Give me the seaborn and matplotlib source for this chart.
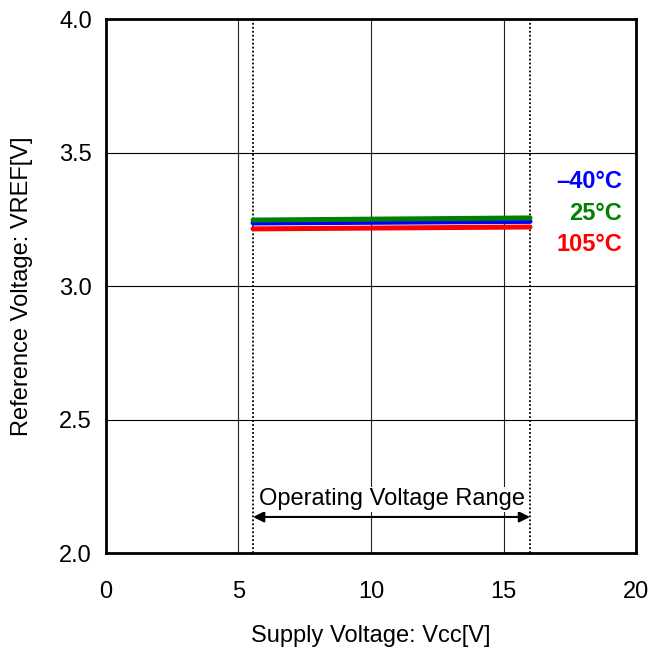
import pandas as pd
import numpy as np
import matplotlib
matplotlib.use("Agg")
import matplotlib.pyplot as plt
import seaborn as sns

# supply voltage sweep (V) and reference voltage per temperature (V)
vcc = [5.55, 16.0]
temps = ["\u201340\u00b0C", "25\u00b0C", "105\u00b0C"]
vref_m40 = [3.236, 3.242]
vref_25 = [3.247, 3.255]
vref_105 = [3.214, 3.221]
colors = ["#0000ff", "#008000", "#ff0000"]

x_ticks = [0, 5, 10, 15, 20]
y_ticks = [2.0, 2.5, 3.0, 3.5, 4.0]
op_range = [5.55, 16.0]

rows = []
for t, vals in zip(temps, [vref_m40, vref_25, vref_105]):
    for x, y in zip(vcc, vals):
        rows.append({"vcc": x, "vref": y, "temp": t})
df = pd.DataFrame(rows)

sns.set_style("white")
plt.rcParams["font.family"] = ["Liberation Sans", "DejaVu Sans"]
plt.rcParams["text.color"] = "black"
plt.rcParams["axes.labelcolor"] = "black"
plt.rcParams["xtick.color"] = "black"
plt.rcParams["ytick.color"] = "black"

fig = plt.figure(figsize=(6.49, 6.53), dpi=100)
ax = fig.add_axes([0.1633, 0.1531, 0.8167, 0.8178])

for x in [5, 10, 15]:
    ax.axvline(x, color="#222222", lw=0.8, zorder=1)
for y in [2.5, 3.0, 3.5]:
    ax.axhline(y, color="black", lw=0.8, zorder=1)
for x in op_range:
    ax.axvline(x, color="black", lw=1.3, ls=(0, (1, 1.2)), zorder=2)

sns.lineplot(data=df, x="vcc", y="vref", hue="temp", palette=colors,
             hue_order=temps, lw=3.6, legend=False, ax=ax, zorder=3)

ax.set_xlim(0, 20)
ax.set_ylim(2.0, 4.0)
ax.set_xticks(x_ticks)
ax.set_xticklabels([str(v) for v in x_ticks])
ax.set_yticks(y_ticks)
ax.set_yticklabels([f"{v:.1f}" for v in y_ticks])
ax.tick_params(axis="both", length=0, labelsize=17, labelcolor="black")
ax.tick_params(axis="x", pad=20)
ax.tick_params(axis="y", pad=10)
for s in ax.spines.values():
    s.set_color("black")
    s.set_linewidth(2)

ax.set_xlabel("Supply Voltage: Vcc[V]", fontsize=17, color="black")
ax.set_ylabel("Reference Voltage: VREF[V]", fontsize=17, color="black")
ax.xaxis.label.set_va("center")
ax.yaxis.label.set_va("center")
ax.xaxis.set_label_coords(0.5, -0.155)
ax.yaxis.set_label_coords(-0.158, 0.5)

ax.annotate("", xy=(op_range[0], 2.135), xytext=(op_range[1], 2.135),
            arrowprops=dict(arrowstyle="<|-|>", color="black", lw=1.5,
                            mutation_scale=16, shrinkA=0, shrinkB=0), zorder=4)
ax.text(10.8, 2.202, "Operating Voltage Range", ha="center", va="center",
        fontsize=17, color="black", zorder=4,
        bbox=dict(facecolor="white", edgecolor="none", pad=1))

for t, c, yy in zip(temps, colors, [3.39, 3.273, 3.157]):
    ax.text(19.47, yy, t, color=c, fontsize=17, fontweight="bold",
            ha="right", va="center", zorder=4)

fig.savefig("out.png", dpi=100)
